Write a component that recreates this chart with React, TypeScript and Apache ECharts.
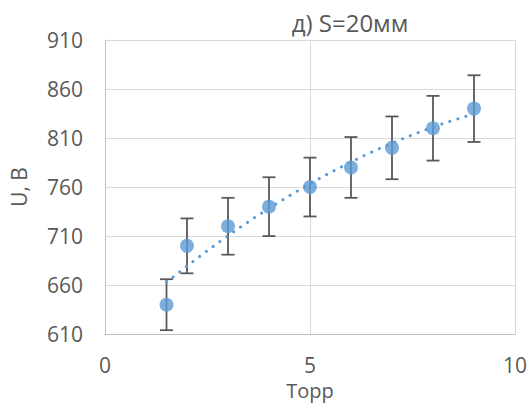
import React, { useEffect, useRef } from "react";
import * as echarts from "echarts";

const chartTitle = "д) S=20мм";
const xName = "Торр";
const yName = "U, В";
const pressure = [1.5, 2, 3, 4, 5, 6, 7, 8, 9];
const voltage = [640, 700, 720, 740, 760, 780, 800, 820, 840];
const voltageErr = [26, 28, 29, 30, 30, 31, 32, 33, 34];
const xTicks = [0, 5, 10];
const yTicks = [610, 660, 710, 760, 810, 860, 910];

const FONT = "'Open Sans', sans-serif";
const TEXT = "#595959";
const BLUE = "#5B9BD5";

// quadratic least-squares trendline (as the spreadsheet's polynomial trendline)
function polyFit2(xs: number[], ys: number[]) {
  const s = [0, 0, 0, 0, 0];
  const t = [0, 0, 0];
  xs.forEach((x, i) => {
    for (let k = 0; k < 5; k++) s[k] += Math.pow(x, k);
    for (let k = 0; k < 3; k++) t[k] += ys[i] * Math.pow(x, k);
  });
  const m = [
    [s[0], s[1], s[2], t[0]],
    [s[1], s[2], s[3], t[1]],
    [s[2], s[3], s[4], t[2]],
  ];
  for (let c = 0; c < 3; c++) {
    for (let r = c + 1; r < 3; r++) {
      const f = m[r][c] / m[c][c];
      for (let k = c; k < 4; k++) m[r][k] -= f * m[c][k];
    }
  }
  const coef = [0, 0, 0];
  for (let r = 2; r >= 0; r--) {
    let v = m[r][3];
    for (let k = r + 1; k < 3; k++) v -= m[r][k] * coef[k];
    coef[r] = v / m[r][r];
  }
  return (x: number) => coef[0] + coef[1] * x + coef[2] * x * x;
}

export default function App() {
  const ref = useRef<HTMLDivElement>(null);
  useEffect(() => {
    if (!ref.current) return;
    const chart = echarts.init(ref.current, undefined, { renderer: "svg" });
    const yBase = yTicks[0];
    const yStep = yTicks[1] - yTicks[0];
    const fit = polyFit2(pressure, voltage);
    const x0 = pressure[0];
    const x1 = pressure[pressure.length - 1];
    const trend: number[][] = [];
    const N = 80;
    for (let i = 0; i <= N; i++) {
      const x = x0 + ((x1 - x0) * i) / N;
      trend.push([x, fit(x) - yBase]);
    }
    chart.setOption({
      animation: false,
      backgroundColor: "#ffffff",
      title: {
        text: chartTitle,
        left: 345,
        top: 5,
        textAlign: "center",
        textStyle: { fontFamily: FONT, fontSize: 24, fontWeight: "normal", color: TEXT },
      },
      grid: { left: 103, right: 15, top: 40, bottom: 63, containLabel: false },
      xAxis: {
        type: "value",
        min: xTicks[0],
        max: xTicks[xTicks.length - 1],
        interval: xTicks[1] - xTicks[0],
        name: xName,
        nameLocation: "middle",
        nameGap: 38,
        nameTextStyle: { fontFamily: FONT, fontSize: 20, color: TEXT },
        axisLine: { show: true, lineStyle: { color: "#BFBFBF", width: 1 } },
        axisTick: { show: false },
        axisLabel: { fontFamily: FONT, fontSize: 21, color: TEXT, margin: 20 },
        splitLine: { show: true, lineStyle: { color: "#D9D9D9", width: 1 } },
      },
      yAxis: {
        type: "value",
        min: 0,
        max: yTicks[yTicks.length - 1] - yBase,
        interval: yStep,
        name: yName,
        nameLocation: "middle",
        nameRotate: 90,
        nameGap: 76,
        nameTextStyle: { fontFamily: FONT, fontSize: 21, color: TEXT },
        axisLine: { show: true, lineStyle: { color: "#BFBFBF", width: 1 } },
        axisTick: { show: false },
        axisLabel: {
          fontFamily: FONT,
          fontSize: 21,
          color: TEXT,
          margin: 22,
          formatter: (v: number) => String(v + yBase),
        },
        splitLine: { show: true, lineStyle: { color: "#D9D9D9", width: 1 } },
      },
      series: [
        {
          type: "custom",
          z: 2,
          silent: true,
          encode: { x: 0, y: [1, 2] },
          data: pressure.map((x, i) => [
            x,
            voltage[i] - voltageErr[i] - yBase,
            voltage[i] + voltageErr[i] - yBase,
          ]),
          renderItem: (params: any, api: any) => {
            const x = api.value(0);
            const pLo = api.coord([x, api.value(1)]);
            const pHi = api.coord([x, api.value(2)]);
            const w = 6.5;
            const style = { stroke: "#595959", lineWidth: 1.8, fill: "none" };
            return {
              type: "group",
              children: [
                { type: "line", shape: { x1: pLo[0], y1: pLo[1], x2: pHi[0], y2: pHi[1] }, style },
                { type: "line", shape: { x1: pLo[0] - w, y1: pLo[1], x2: pLo[0] + w, y2: pLo[1] }, style },
                { type: "line", shape: { x1: pHi[0] - w, y1: pHi[1], x2: pHi[0] + w, y2: pHi[1] }, style },
              ],
            };
          },
        },
        {
          type: "scatter",
          z: 4,
          symbol: "circle",
          symbolSize: 14,
          itemStyle: { color: BLUE },
          data: pressure.map((x, i) => [x, voltage[i] - yBase]),
        },
        {
          type: "line",
          z: 3,
          silent: true,
          showSymbol: false,
          symbol: "none",
          data: trend,
          lineStyle: { color: BLUE, width: 3, type: [0.1, 8.3], cap: "round" },
        },
      ],
    });
    return () => chart.dispose();
  }, []);
  return (
    <div
      ref={ref}
      style={{ position: "fixed", left: 0, top: 0, width: 530, height: 405, background: "#fff" }}
    />
  );
}
